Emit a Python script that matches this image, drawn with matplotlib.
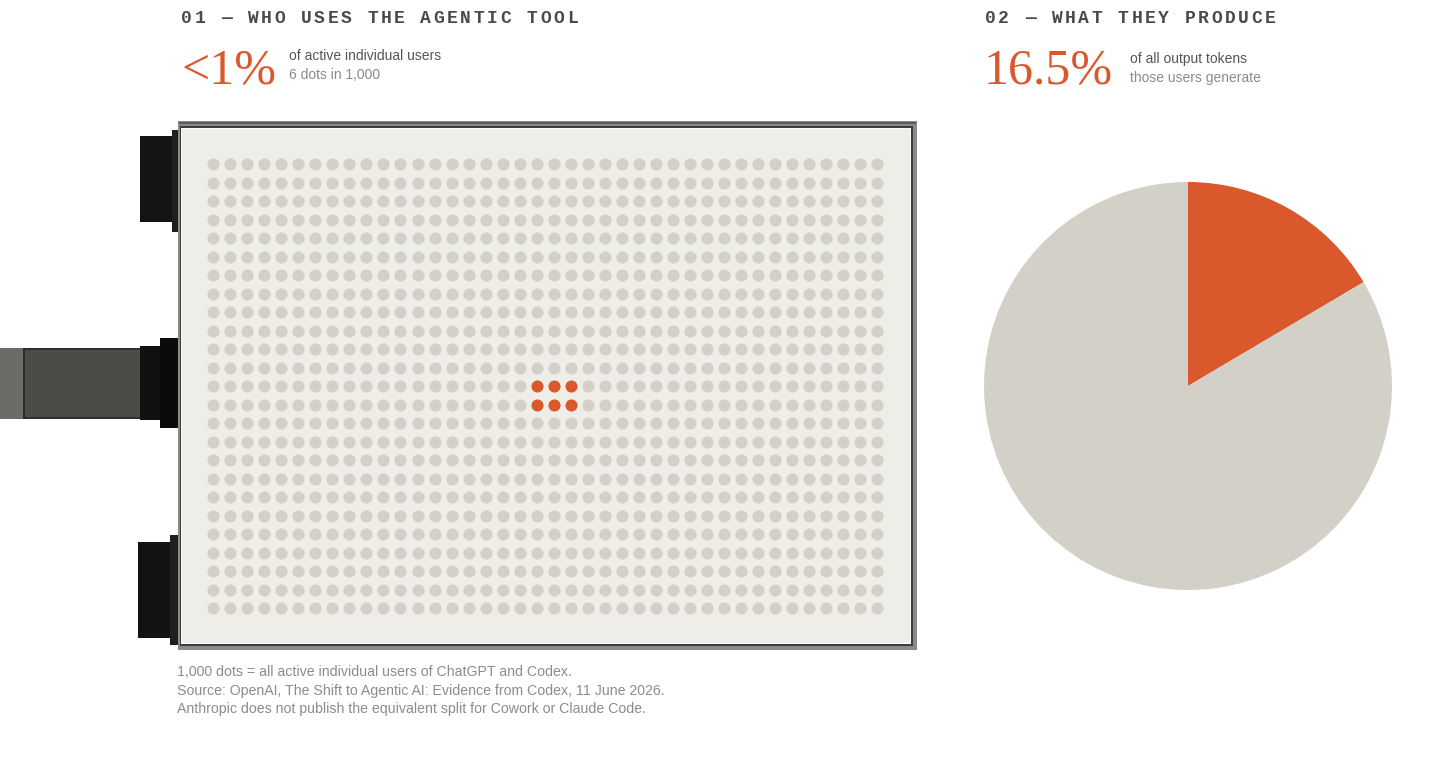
import numpy as np
import matplotlib.pyplot as plt
from matplotlib.patches import Rectangle

# data
n_cols = 40
n_rows = 25
highlight_rows = [12, 13]
highlight_cols = [19, 20, 21]
pie_labels = ["agentic users", "everyone else"]
pie_values = [16.5, 83.5]

ORANGE = "#D9582C"
DOT_GREY = "#D3D0C7"
PANEL = "#EEEDE8"

W, H = 1456, 766
fig = plt.figure(figsize=(W / 100, H / 100), dpi=100)
fig.patch.set_facecolor("white")


def fig_box(x0, y0, x1, y1):
    # pixel box (top-left origin) -> figure fraction rect
    return [x0 / W, 1 - y1 / H, (x1 - x0) / W, (y1 - y0) / H]


# background layer in pixel coords for the billboard photo
bg = fig.add_axes([0, 0, 1, 1])
bg.set_xlim(0, W)
bg.set_ylim(H, 0)
bg.axis("off")


def rect(x0, y0, x1, y1, color, z=1):
    bg.add_patch(Rectangle((x0, y0), x1 - x0, y1 - y0, facecolor=color,
                           edgecolor="none", zorder=z))


# pole on the left
rect(0, 348, 24, 419, "#6a6d67")
rect(24, 348, 140, 419, "#4a4d45")
rect(24, 348, 140, 350, "#2e302b", 2)
rect(24, 417, 140, 419, "#2e302b", 2)
rect(23, 348, 25, 419, "#2a2b28", 2)
# brackets
rect(140, 346, 165, 420, "#111111", 2)
rect(160, 338, 178, 428, "#0b0b0b", 2)
rect(140, 136, 173, 222, "#141414", 2)
rect(172, 130, 179, 232, "#1f1f1f", 2)
rect(138, 542, 171, 638, "#121212", 2)
rect(170, 535, 179, 645, "#1f1f1f", 2)
# frame + panel
rect(178, 121, 917, 650, "#8a8a88", 3)
rect(179, 122, 916, 124, "#5c5c5a", 3)
rect(180, 126, 913, 646, "#3c3c3a", 3)
rect(181, 128, 911, 644, "#fbfbf9", 3)
rect(182, 129, 910, 643, PANEL, 3)

# dot grid axes, placed so dot centres land on the panel
gx0, gx1 = 213.3 - 8.51, 877.0 + 8.51
gy0, gy1 = 164.3 - 9.25, 608.3 + 9.25
ax = fig.add_axes(fig_box(gx0, gy0, gx1, gy1))
ax.set_xlim(-0.5, n_cols - 0.5)
ax.set_ylim(n_rows - 0.5, -0.5)
ax.axis("off")

cols, rows = np.meshgrid(np.arange(n_cols), np.arange(n_rows))
cols = cols.ravel()
rows = rows.ravel()
is_hot = np.isin(rows, highlight_rows) & np.isin(cols, highlight_cols)
dot_size = 76
ax.scatter(cols[~is_hot], rows[~is_hot], s=dot_size, color=DOT_GREY,
           linewidths=0)
ax.scatter(cols[is_hot], rows[is_hot], s=dot_size, color=ORANGE,
           linewidths=0)

# pie
cx, cy, r = 1188, 386, 204
pax = fig.add_axes(fig_box(cx - r, cy - r, cx + r, cy + r))
pax.pie(pie_values, colors=[ORANGE, DOT_GREY], startangle=90,
        counterclock=False, radius=1, wedgeprops=dict(linewidth=0))
pax.set_xlim(-1, 1)
pax.set_ylim(-1, 1)
pax.set_aspect("equal")
pax.axis("off")


# spaced-out monospace heading (letter tracking done by hand)
def tracked(x, y, s, pitch=13.3):
    for i, ch in enumerate(s):
        bg.text(x + i * pitch, y, ch, family="Liberation Mono", weight="bold",
                color="#4a4a4a", fontsize=13, va="baseline")


tracked(181, 23, "01 — WHO USES THE AGENTIC TOOL")
tracked(985, 23, "02 — WHAT THEY PRODUCE")

big = dict(family="Liberation Serif", color=ORANGE, fontsize=36,
           va="baseline")
bg.text(182, 84, "<1%", **big)
bg.text(984, 84, "16.5%", **big)

sans = dict(family="Liberation Sans", fontsize=10, va="baseline")
bg.text(289, 60, "of active individual users", color="#555555", **sans)
bg.text(289, 79, "6 dots in 1,000", color="#8a8a8a", **sans)
bg.text(1130, 63, "of all output tokens", color="#555555", **sans)
bg.text(1130, 82, "those users generate", color="#8a8a8a", **sans)

footer = [
    "1,000 dots = all active individual users of ChatGPT and Codex.",
    "Source: OpenAI, The Shift to Agentic AI: Evidence from Codex, 11 June 2026.",
    "Anthropic does not publish the equivalent split for Cowork or Claude Code.",
]
for i, line in enumerate(footer):
    bg.text(177, 676 + i * 18.5, line, color="#8c8c8c", family="Liberation Sans",
            fontsize=10.2, va="baseline")

fig.savefig("out.png", dpi=100, facecolor="white")
